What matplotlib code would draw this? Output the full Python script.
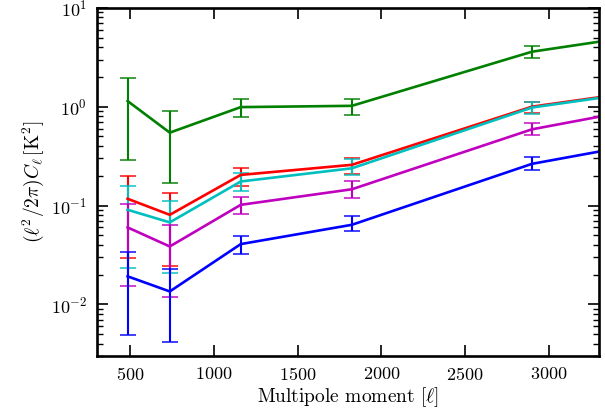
import numpy as np
import matplotlib
matplotlib.use("Agg")
import matplotlib.pyplot as plt

plt.rcParams['font.family'] = 'serif'
plt.rcParams['font.serif'] = ['cmr10']
plt.rcParams['mathtext.fontset'] = 'cm'
plt.rcParams['axes.formatter.use_mathtext'] = True

# multipole bins (last one lies beyond the plotted range)
ell = [484, 736, 1160, 1824, 2900, 3700]

# band powers and error bar ends (lower, upper) per series
green = [1.14, 0.546, 0.99, 1.02, 3.6, 5.73]
green_lo = [0.29, 0.168, 0.79, 0.82, 3.13, 5.3]
green_hi = [1.96, 0.91, 1.2, 1.2, 4.13, 6.2]

red = [0.117, 0.0805, 0.204, 0.258, 1.0, 1.55]
red_lo = [0.0294, 0.0246, 0.159, 0.209, 0.86, 1.4]
red_hi = [0.201, 0.135, 0.242, 0.305, 1.12, 1.7]

cyan = [0.0905, 0.0675, 0.175, 0.238, 0.98, 1.53]
cyan_lo = [0.0233, 0.0208, 0.141, 0.205, 0.85, 1.4]
cyan_hi = [0.158, 0.111, 0.212, 0.294, 1.12, 1.7]

magenta = [0.06, 0.0385, 0.1016, 0.146, 0.59, 1.06]
magenta_lo = [0.0152, 0.0119, 0.0818, 0.12, 0.518, 0.95]
magenta_hi = [0.104, 0.0638, 0.1216, 0.175, 0.68, 1.2]

blue = [0.0192, 0.0135, 0.0407, 0.0638, 0.264, 0.467]
blue_lo = [0.00494, 0.00413, 0.0325, 0.0546, 0.23, 0.42]
blue_hi = [0.0338, 0.0228, 0.0486, 0.0792, 0.308, 0.52]

series = [
    (green, green_lo, green_hi, 'g'),
    (red, red_lo, red_hi, 'r'),
    (cyan, cyan_lo, cyan_hi, 'c'),
    (magenta, magenta_lo, magenta_hi, 'm'),
    (blue, blue_lo, blue_hi, 'b'),
]

fig = plt.figure(figsize=(6.05, 4.13), dpi=100)
ax = fig.add_axes([0.160, 0.138, 0.830, 0.843])

for y, lo, hi, col in series:
    y = np.array(y)
    yerr = [y - np.array(lo), np.array(hi) - y]
    line, caps, bars = ax.errorbar(ell, y, yerr=yerr, color=col, lw=1.9,
                                   elinewidth=1.5, capsize=5.5, capthick=1.4)
    for c in caps:
        c.set_alpha(0.75)

ax.set_yscale('log')
ax.set_xlim(300, 3300)
ax.set_ylim(3e-3, 10)
ax.set_xticks([500, 1000, 1500, 2000, 2500, 3000])

for s in ax.spines.values():
    s.set_linewidth(1.9)
ax.tick_params(which='both', direction='in', top=True, right=True, labelsize=13)
ax.tick_params(which='major', length=8, width=1.2, pad=7)
ax.tick_params(which='minor', length=4.5, width=1)

ax.set_xlabel(r'Multipole moment $[\ell]$', fontsize=14, labelpad=2)
ax.set_ylabel(r'$(\ell^2/2\pi)C_\ell\,[\mathrm{K}^2]$', fontsize=14, labelpad=3)

fig.savefig('out.png', dpi=100)
